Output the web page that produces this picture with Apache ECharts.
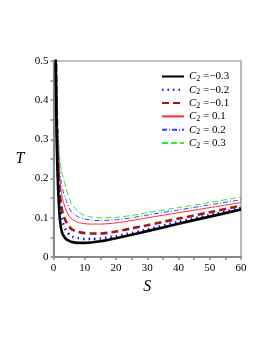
<!DOCTYPE html>
<html><head><meta charset="utf-8">
<script src="https://cdn.jsdelivr.net/npm/echarts@6/dist/echarts.min.js"></script>
<style>html,body{margin:0;padding:0;background:#fff}#c{width:266px;height:344px}</style>
</head><body><div id="c"></div>
<script>
const S = [0.6, 0.7, 0.8, 1, 1.2, 1.5, 2, 2.5, 3, 4, 5, 6, 8, 10, 12, 15, 20, 25, 30, 40, 50, 60];
const T_m03 = [0.62, 0.52, 0.43, 0.31, 0.24, 0.17, 0.10, 0.070, 0.057, 0.046, 0.041, 0.038, 0.036, 0.036, 0.037, 0.040, 0.048, 0.057, 0.066, 0.085, 0.103, 0.121];
const T_m02 = [0.66, 0.56, 0.47, 0.35, 0.27, 0.20, 0.135, 0.102, 0.087, 0.068, 0.058, 0.052, 0.048, 0.046, 0.046, 0.047, 0.053, 0.061, 0.070, 0.090, 0.107, 0.125];
const T_m01 = [0.69, 0.59, 0.50, 0.38, 0.30, 0.225, 0.16, 0.13, 0.11, 0.091, 0.078, 0.070, 0.064, 0.061, 0.060, 0.060, 0.065, 0.073, 0.081, 0.098, 0.114, 0.131];
const T_p01 = [0.74, 0.63, 0.55, 0.43, 0.35, 0.275, 0.20, 0.165, 0.145, 0.120, 0.104, 0.096, 0.088, 0.085, 0.084, 0.084, 0.087, 0.093, 0.100, 0.113, 0.126, 0.139];
const T_p02 = [0.76, 0.66, 0.57, 0.45, 0.37, 0.295, 0.22, 0.19, 0.17, 0.145, 0.125, 0.113, 0.102, 0.097, 0.094, 0.093, 0.095, 0.100, 0.107, 0.120, 0.133, 0.146];
const T_p03 = [0.79, 0.69, 0.60, 0.48, 0.40, 0.325, 0.25, 0.22, 0.205, 0.175, 0.150, 0.133, 0.115, 0.106, 0.102, 0.100, 0.101, 0.106, 0.113, 0.126, 0.139, 0.153];
const seriesNames = ['C2=-0.3', 'C2=-0.2', 'C2=-0.1', 'C2=0.1', 'C2=0.2', 'C2=0.3'];
const legendValues = ['\u22120.3', '\u22120.2', '\u22120.1', '0.1', '0.2', '0.3'];
const xTicks = [0, 10, 20, 30, 40, 50, 60];
const yTicks = [0, 0.1, 0.2, 0.3, 0.4, 0.5];

const allT = [T_m03, T_m02, T_m01, T_p01, T_p02, T_p03];
const styles = [
  {color: '#000000', width: 2.6, type: 'solid'},
  {color: '#0000ff', width: 2.6, type: [1.5, 4]},
  {color: '#9b1b1b', width: 2.6, type: [7, 4]},
  {color: '#ff2a2a', width: 1, type: 'solid'},
  {color: '#3a3aff', width: 1, type: [5, 2, 1, 2]},
  {color: '#33e633', width: 1, type: [6, 3]}
];
const FONT = 'Liberation Serif';
const chart = echarts.init(document.getElementById('c'), null, {renderer: 'canvas'});
chart.setOption({
  animation: false,
  backgroundColor: '#fff',
  grid: {left: 53.5, right: 25, top: 61, bottom: 87, show: true, borderColor: '#888', borderWidth: 1.2, backgroundColor: 'transparent'},
  xAxis: {
    type: 'value', min: xTicks[0], max: xTicks[xTicks.length - 1], interval: 10,
    name: 'S', nameLocation: 'middle', nameGap: 17,
    nameTextStyle: {fontFamily: FONT, fontStyle: 'italic', fontSize: 16, color: '#000'},
    axisLine: {show: true, lineStyle: {color: '#888', width: 2}},
    axisTick: {show: true, length: 3, lineStyle: {color: '#888', width: 1.5}},
    minorTick: {show: true, splitNumber: 2, length: 3, lineStyle: {color: '#888', width: 1.5}},
    splitLine: {show: false},
    axisLabel: {fontFamily: FONT, fontSize: 11, color: '#000', margin: 6}
  },
  yAxis: {
    type: 'value', min: yTicks[0], max: yTicks[yTicks.length - 1], interval: 0.1,
    name: 'T', nameLocation: 'middle', nameGap: 29, nameRotate: 0,
    nameTextStyle: {fontFamily: FONT, fontStyle: 'italic', fontSize: 16, color: '#000', padding: [6, 0, 0, 0]},
    axisLine: {show: true, lineStyle: {color: '#888', width: 2}},
    axisTick: {show: true, length: 3, lineStyle: {color: '#888', width: 1.5}},
    minorTick: {show: true, splitNumber: 2, length: 3, lineStyle: {color: '#888', width: 1.5}},
    splitLine: {show: false},
    axisLabel: {fontFamily: FONT, fontSize: 11, color: '#000', margin: 5}
  },
  legend: {
    show: true, orient: 'vertical', left: 161, top: 70, padding: 0,
    itemWidth: 22, itemHeight: 8, itemGap: 0.3,
    data: seriesNames,
    itemStyle: {opacity: 0},
    formatter: function (name) {
      const i = seriesNames.indexOf(name);
      return '{c|C}{s|2}{n| =' + (i < 3 ? '' : ' ') + legendValues[i] + '}';
    },
    textStyle: {
      fontFamily: FONT, fontSize: 11, color: '#000', lineHeight: 13, padding: 0,
      rich: {
        c: {fontFamily: FONT, fontStyle: 'italic', fontSize: 11, color: '#000', lineHeight: 13},
        s: {fontFamily: FONT, fontSize: 8, color: '#000', lineHeight: 13, verticalAlign: 'bottom'},
        n: {fontFamily: FONT, fontSize: 11, color: '#000', lineHeight: 13}
      }
    }
  },
  series: seriesNames.map((n, i) => ({
    name: n, type: 'line', showSymbol: false, symbol: 'none',
    smooth: 0.25, clip: true,
    data: S.map((s, k) => [s, allT[i][k]]),
    lineStyle: styles[i],
    itemStyle: {color: styles[i].color},
    z: 10 - i
  }))
});
</script></body></html>
